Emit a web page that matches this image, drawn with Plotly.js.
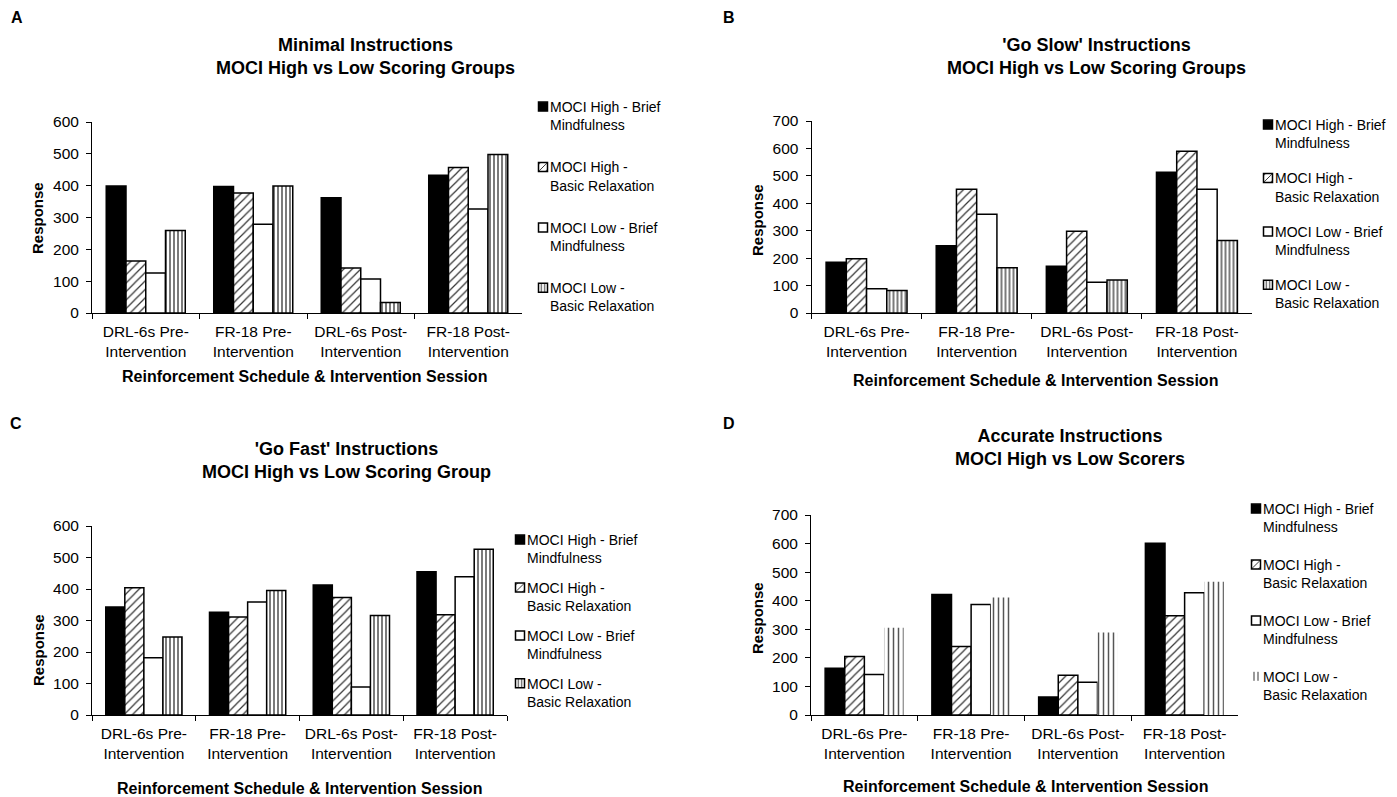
<!DOCTYPE html>
<html><head><meta charset="utf-8">
<script src="https://cdn.plot.ly/plotly-3.0.1.min.js"></script>
<style>html,body{margin:0;padding:0;background:#fff;} #chart{width:1397px;height:797px;}</style>
</head><body><div id="chart"></div>
<script>
// ---------- DATA ----------
const categories = [
  "DRL-6s Pre-<br>Intervention",
  "FR-18 Pre-<br>Intervention",
  "DRL-6s Post-<br>Intervention",
  "FR-18 Post-<br>Intervention"
];
const seriesNames = [
  "MOCI High - Brief<br>Mindfulness",
  "MOCI High -<br>Basic Relaxation",
  "MOCI Low - Brief<br>Mindfulness",
  "MOCI Low -<br>Basic Relaxation"
];
const panelLetters = ["A", "B", "C", "D"];
const panelTitles = [
  "Minimal Instructions<br>MOCI High vs Low Scoring Groups",
  "'Go Slow' Instructions<br>MOCI High vs Low Scoring Groups",
  "'Go Fast' Instructions<br>MOCI High vs Low Scoring Group",
  "Accurate Instructions<br>MOCI High vs Low Scorers"
];
const xAxisTitle = "Reinforcement Schedule & Intervention Session";
const yAxisTitle = "Response";
const yMax = [600, 700, 600, 700];

// A: Minimal instructions
const minimalHighBrief = [399, 397, 362, 433];
const minimalHighRelax = [163, 377, 141, 457];
const minimalLowBrief  = [126, 279, 107, 327];
const minimalLowRelax  = [259, 399, 33, 498];
// B: 'Go Slow' instructions
const slowHighBrief = [185, 245, 170, 513];
const slowHighRelax = [198, 451, 298, 590];
const slowLowBrief  = [88, 360, 112, 451];
const slowLowRelax  = [82, 165, 120, 264];
// C: 'Go Fast' instructions
const fastHighBrief = [343, 326, 413, 455];
const fastHighRelax = [404, 311, 373, 318];
const fastLowBrief  = [182, 359, 89, 439];
const fastLowRelax  = [248, 395, 316, 526];
// D: Accurate instructions
const accHighBrief = [164, 422, 63, 601];
const accHighRelax = [205, 240, 139, 347];
const accLowBrief  = [142, 387, 115, 428];
const accLowRelax  = [305, 411, 289, 466];

const panelData = [
  [minimalHighBrief, minimalHighRelax, minimalLowBrief, minimalLowRelax],
  [slowHighBrief, slowHighRelax, slowLowBrief, slowLowRelax],
  [fastHighBrief, fastHighRelax, fastLowBrief, fastLowRelax],
  [accHighBrief, accHighRelax, accLowBrief, accLowRelax]
];

// ---------- LAYOUT (pixels) ----------
const W = 1397, H = 797;
const FONT = "Liberation Sans, Arial, sans-serif";
const panels = [
  {plot:[92,522,122,313], title:[365,56], letter:[17,18], xt:[304,376], yt:[38,218], leg:[550,101], gap:21},
  {plot:[811.5,1252,121,313], title:[1096,57], letter:[729,17], xt:[1035,380], yt:[757,220], leg:[1275,119], gap:14},
  {plot:[92,507,526,715], title:[346,460], letter:[16,423], xt:[299,788], yt:[38,650], leg:[527,534], gap:8.5},
  {plot:[811,1238,515,715], title:[1070,447], letter:[729,423], xt:[1025,786], yt:[757,618], leg:[1263,503], gap:16.5}
];
const px = v => v / W;
const py = v => 1 - v / H;

const baseStyles = [
  {color:'#000', line:{color:'#000', width:1.5}},
  {color:'#fff', line:{color:'#000', width:1.5}, pattern:{shape:'/', fgcolor:'#333', bgcolor:'#fff', size:6, solidity:0.2}},
  {color:'#fff', line:{color:'#000', width:1.5}},
  {color:'#fff', line:{color:'#000', width:1.5}, pattern:{shape:'|', fgcolor:'#222', bgcolor:'#fff', size:4, solidity:0.3}}
];
const dLowRelaxStyle = {color:'#fff', line:{color:'rgba(0,0,0,0)', width:0}, pattern:{shape:'|', fgcolor:'#555', bgcolor:'#fff', size:5, solidity:0.3}};

const traces = [];
const layout = {
  width: W, height: H,
  margin: {l:0, r:0, t:0, b:0},
  paper_bgcolor: '#fff', plot_bgcolor: 'rgba(0,0,0,0)',
  barmode: 'group', bargap: 0.265, bargroupgap: 0,
  font: {family: FONT, color: '#000'},
  annotations: []
};

panels.forEach((p, i) => {
  const sfx = i === 0 ? '' : String(i + 1);
  const legName = 'legend' + sfx;
  panelData[i].forEach((vals, s) => {
    const style = (i === 3 && s === 3) ? dLowRelaxStyle : baseStyles[s];
    traces.push({
      type: 'bar', x: categories, y: vals, name: seriesNames[s],
      xaxis: 'x' + sfx, yaxis: 'y' + sfx,
      legend: legName, legendgroup: 'p' + i + 's' + s,
      marker: JSON.parse(JSON.stringify(style)),
      hoverinfo: 'skip'
    });
  });
  layout['xaxis' + sfx] = {
    domain: [px(p.plot[0]), px(p.plot[1])], anchor: 'y' + sfx, type: 'category',
    showline: true, linecolor: '#000', linewidth: 1,
    ticks: 'outside', tickson: 'boundaries', ticklen: 5, tickcolor: '#000',
    ticklabelstandoff: 4,
    tickfont: {family: FONT, size: 15.5, color: '#000'},
    showgrid: false, zeroline: false, fixedrange: true
  };
  layout['yaxis' + sfx] = {
    domain: [py(p.plot[3]), py(p.plot[2])], anchor: 'x' + sfx,
    range: [0, yMax[i]], tick0: 0, dtick: 100,
    showline: true, linecolor: '#000', linewidth: 1,
    ticks: 'outside', ticklen: 5, tickcolor: '#000',
    ticklabelstandoff: 4,
    tickfont: {family: FONT, size: 15.5, color: '#000'},
    showgrid: false, zeroline: false, fixedrange: true
  };
  layout[legName] = {
    x: px(p.leg[0] - 40), y: py(p.leg[1] - 10), xanchor: 'left', yanchor: 'top',
    bgcolor: 'rgba(0,0,0,0)', borderwidth: 0,
    font: {family: FONT, size: 14, color: '#000'},
    traceorder: 'grouped', tracegroupgap: p.gap, valign: 'top', itemwidth: 30
  };
  layout.annotations.push(
    {xref:'paper', yref:'paper', x:px(p.title[0]), y:py(p.title[1]), xanchor:'center', yanchor:'middle',
     text:'<b>' + panelTitles[i].replace('<br>', '</b><br><b>') + '</b>', showarrow:false,
     font:{family:FONT, size:18, color:'#000'}},
    {xref:'paper', yref:'paper', x:px(p.letter[0]), y:py(p.letter[1]), xanchor:'center', yanchor:'middle',
     text:'<b>' + panelLetters[i] + '</b>', showarrow:false, font:{family:FONT, size:16, color:'#000'}},
    {xref:'paper', yref:'paper', x:px(p.xt[0]), y:py(p.xt[1]), xanchor:'center', yanchor:'middle',
     text:'<b>' + xAxisTitle + '</b>', showarrow:false, font:{family:FONT, size:16, color:'#000'}},
    {xref:'paper', yref:'paper', x:px(p.yt[0]), y:py(p.yt[1]), xanchor:'center', yanchor:'middle', textangle:-90,
     text:'<b>' + yAxisTitle + '</b>', showarrow:false, font:{family:FONT, size:15, color:'#000'}}
  );
});

Plotly.newPlot('chart', traces, layout, {staticPlot: true, displayModeBar: false}).then(gd => {
  gd.querySelectorAll('.legendpoints').forEach(g => g.setAttribute('transform', 'translate(13,0)'));
  gd.querySelectorAll('.legendpoints path').forEach(p => p.setAttribute('d', 'M4.5,4.5H-4.5V-4.5H4.5Z'));
});
</script>
</body></html>
